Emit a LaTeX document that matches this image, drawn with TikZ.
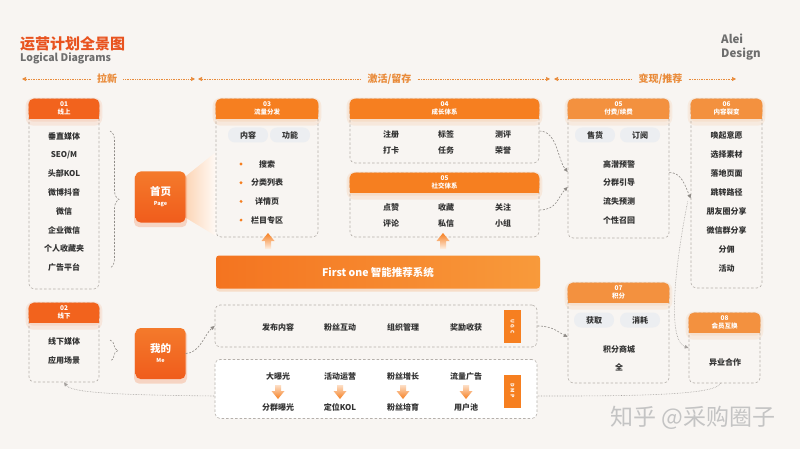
\documentclass[tikz,border=0pt]{standalone}
\usepackage{fontspec}
\setmainfont{Noto Sans CJK SC}
\usetikzlibrary{arrows.meta,shadows,decorations.pathreplacing}

\definecolor{bgcream}{HTML}{F8F5F2}
\definecolor{txtdark}{HTML}{333333}
\definecolor{titlered}{HTML}{E8531F}
\definecolor{subgray}{HTML}{6E6E6E}
\definecolor{phaseor}{HTML}{E98B3A}
\definecolor{headred}{HTML}{F2631D}
\definecolor{heador}{HTML}{F67F20}
\definecolor{headlt}{HTML}{F3913F}
\definecolor{hubtop}{HTML}{F47A2B}
\definecolor{hubbot}{HTML}{F05C1C}
\definecolor{barleft}{HTML}{F47420}
\definecolor{barright}{HTML}{F89A3B}
\definecolor{dashgray}{HTML}{B5B0AB}
\definecolor{linkgray}{HTML}{8E8A86}
\definecolor{pillgray}{HTML}{ECEEF1}
\definecolor{wmgray}{HTML}{C4C4C4}

\begin{document}
\begin{tikzpicture}[x=1pt,y=-1pt,
  card/.style={draw=dashgray, dash pattern=on 2.5pt off 2pt, line width=.6pt, rounded corners=5pt, inner sep=0},
  item/.style={text=txtdark, font=\bfseries\fontsize{8}{9}\selectfont, inner sep=1pt},
  hdtxt/.style={text=white, align=center, font=\bfseries\fontsize{6.5}{7.8}\selectfont, inner sep=0},
  pill/.style={fill=pillgray, rounded corners=7pt, minimum width=40, minimum height=15, inner sep=0, text=txtdark, font=\bfseries\fontsize{8}{9}\selectfont},
  hub/.style={top color=hubtop, bottom color=hubbot, rounded corners=5pt, minimum width=50, minimum height=51, inner sep=0, text=white, align=center, font=\bfseries\fontsize{10.5}{13}\selectfont, drop shadow={fill=headred, opacity=.22, shadow xshift=0pt, shadow yshift=-3pt, shadow scale=1.06}},
  tag/.style={fill=heador, minimum width=33, minimum height=17, inner sep=0, rotate=-90, text=white, font=\bfseries\fontsize{5}{6}\selectfont},
  link/.style={draw=linkgray, dash pattern=on 2pt off 1.5pt, line width=.6pt, -{Triangle[length=4pt,width=3.5pt]}},
  dotline/.style={draw=linkgray!80, densely dotted, line width=.6pt, -{Triangle[length=4pt,width=3.5pt]}},
  curly/.style={draw=linkgray, dash pattern=on 2pt off 1.5pt, line width=.6pt, decorate, decoration={brace, amplitude=#1}},
  phase/.style={draw=phaseor, densely dotted, line width=.7pt},
  phasetxt/.style={text=phaseor, font=\bfseries\fontsize{10}{11}\selectfont, inner sep=6pt},
]
\fill[bgcream] (0,0) rectangle (800,449);
\useasboundingbox (0,0) rectangle (800,449);

% title and brand
\node[anchor=west, inner sep=0, text=titlered, font=\bfseries\fontsize{15}{16}\selectfont] (title) at (20,44) {运营计划全景图};
\node[anchor=west, inner sep=0, text=subgray, font=\bfseries\fontsize{10.5}{12}\selectfont] (subtitle) at (20,58.5) {Logical Diagrams};
\node[anchor=north west, inner sep=0, align=left, text=subgray, font=\bfseries\fontsize{11.5}{14}\selectfont] (brand) at (721,34) {Alei\\Design};

% phases
\node[phasetxt] (ph1) at (107,79) {拉新};
\node[phasetxt] (ph2) at (389.5,79) {激活/留存};
\node[phasetxt] (ph3) at (660.5,79) {变现/推荐};
\coordinate (pa) at (22,79);
\coordinate (pb) at (195,79);
\coordinate (pc) at (198,79);
\coordinate (pd) at (550,79);
\coordinate (pe) at (554,79);
\coordinate (pf) at (736,79);
\draw[phase, {Triangle[length=4pt,width=4pt]}-] (pa) -- (ph1);
\draw[phase, -{Triangle[length=4pt,width=4pt]}] (ph1) -- (pb);
\draw[phase, {Triangle[length=4pt,width=4pt]}-] (pc) -- (ph2);
\draw[phase, -{Triangle[length=4pt,width=4pt]}] (ph2) -- (pd);
\draw[phase, {Triangle[length=4pt,width=4pt]}-] (pe) -- (ph3);
\draw[phase, -{Triangle[length=4pt,width=4pt]}] (ph3) -- (pf);

% light beam from the home page
\shade[left color=heador!32, right color=heador!4] (186,176) -- (216,152) -- (216,236) -- (186,218) -- cycle;

% cards
\node[card, minimum width=70, minimum height=190] (b01) at (64,194) {};
\node[card, minimum width=70, minimum height=79] (b02) at (64,342.5) {};
\node[card, minimum width=102, minimum height=138] (b03) at (267,168) {};
\node[card, minimum width=189, minimum height=64] (b04) at (444.5,131) {};
\node[card, minimum width=189, minimum height=64] (b05s) at (444.5,205) {};
\node[card, minimum width=101, minimum height=139] (b05p) at (618.5,168.5) {};
\node[card, minimum width=71, minimum height=189] (b06) at (726.5,193.5) {};
\node[card, minimum width=101, minimum height=100] (b07) at (618.5,333) {};
\node[card, minimum width=71, minimum height=70] (b08) at (724.5,348) {};

\foreach \c/\hc/\lab in {b01/headred/{01\\线上}, b02/headred/{02\\线下},
    b03/heador/{03\\流量分发}, b04/heador/{04\\成长体系}, b05s/heador/{05\\社交体系},
    b05p/headlt/{05\\付费/续费}, b06/headlt/{06\\内容裂变}, b07/headlt/{07\\积分},
    b08/headlt/{08\\会员互换}}{
  \fill[\hc, opacity=.10, rounded corners=8pt] ([xshift=-3pt,yshift=1pt]\c.north west) rectangle ([xshift=3pt,yshift=-27pt]\c.north east);
  \fill[\hc, opacity=.10, rounded corners=6pt] ([xshift=-1pt]\c.north west) rectangle ([xshift=1pt,yshift=-23pt]\c.north east);
  \fill[\hc, rounded corners=5pt] (\c.north west) rectangle ([yshift=-20pt]\c.north east);
  \fill[\hc] ([yshift=-12pt]\c.north west) rectangle ([yshift=-20pt]\c.north east);
  \node[hdtxt] (h\c) at ([yshift=-10pt]\c.north) {\lab};
}

% 01 online
\foreach \t [count=\i] in {垂直媒体,SEO/M,头部KOL,微博抖音,微信,企业微信,个人收藏夹,广告平台}
  \node[item] (on\i) at (64,{117.2+18.8*\i}) {\t};
% 02 offline
\foreach \t [count=\i] in {线下媒体,应用场景}
  \node[item] (off\i) at (64,{322+19*\i}) {\t};

% 03 traffic
\node[pill] (p31) at (248,135) {内容};
\node[pill] (p32) at (290,135) {功能};
\foreach \t [count=\i] in {搜索,分类列表,详情页,栏目专区}{
  \fill[heador] (241,{145.3+18.7*\i}) circle (1.6pt);
  \node[item] (tr\i) at (267,{145.3+18.7*\i}) {\t};
}

% 04 growth, 05 social
\foreach \t/\x in {注册/391,标签/446,测评/503}
  \node[item] (gr\x) at (\x,134) {\t};
\foreach \t/\x in {打卡/391,任务/446,荣誉/503}
  \node[item] (gs\x) at (\x,150.5) {\t};
\foreach \t/\x in {点赞/391,收藏/446,关注/503}
  \node[item] (so\x) at (\x,207.5) {\t};
\foreach \t/\x in {评论/391,私信/446,小组/503}
  \node[item] (sp\x) at (\x,223.5) {\t};

% 05 pay
\node[pill] (p51) at (595,135) {售货};
\node[pill] (p52) at (640,135) {订阅};
\foreach \t [count=\i] in {高潜预警,分群引导,流失预测,个性召回}
  \node[item] (pay\i) at (619,{145.3+18.8*\i}) {\t};

% 06 content
\foreach \t [count=\i] in {唤起意愿,选择素材,落地页面,跳转路径,朋友圈分享,微信群分享,分佣,活动}
  \node[item] (ct\i) at (726.5,{116.8+18.9*\i}) {\t};

% 07 points, 08 members
\node[pill] (p71) at (594,320) {获取};
\node[pill] (p72) at (640,320) {消耗};
\node[item] (pt1) at (619,349) {积分商城};
\node[item] (pt2) at (619,367) {全};
\node[item] (mb1) at (725,362) {异业合作};

% hubs
\node[hub] (page) at (160.5,197) {首页\\[-3pt]{\fontsize{5.5}{6}\selectfont Page}};
\node[hub] (me) at (160.5,353.5) {我的\\[-3pt]{\fontsize{5.5}{6}\selectfont Me}};

% recommendation system
\node[left color=barleft, right color=barright, rounded corners=3pt, minimum width=324, minimum height=33,
  text=white, font=\bfseries\fontsize{10.5}{12}\selectfont,
  drop shadow={fill=heador, opacity=.2, shadow xshift=0pt, shadow yshift=-3pt}] (sys) at (378,272) {First one 智能推荐系统};
\foreach \ax in {268,443}
  \shade[top color=heador, bottom color=heador!12] (\ax,233) -- ({\ax+6.5},241) -- ({\ax+3},241) -- ({\ax+3},249)
    -- ({\ax-3},249) -- ({\ax-3},241) -- ({\ax-6.5},241) -- cycle;

% long return line
\coordinate (lowr) at (560,396);
\coordinate (lowl) at (215,396);
\draw[dotline] ([xshift=-4pt]b08.south) .. controls +(-4,10) and (660,396) .. (lowr) -- (lowl)
  .. controls (120,395) and (72,393) .. (b02.south);

% UGC and DMP
\node[card, minimum width=322, minimum height=42] (bugc) at (376,326) {};
\node[card, fill=white, minimum width=322, minimum height=59] (bdmp) at (376,389) {};
\node[tag] (ugc) at (512.5,326.5) {U\,\,G\,\,C};
\node[tag] (dmp) at (512.5,391) {D\,\,M\,\,P};
\foreach \t/\x in {发布内容/278,粉丝互动/340,组织管理/403,奖励收获/466}
  \node[item] (u\x) at (\x,327.5) {\t};
\foreach \t/\x in {大曝光/278,活动运营/340,粉丝增长/403,流量广告/466}
  \node[item] (dt\x) at (\x,376.5) {\t};
\foreach \t/\x in {分群曝光/278,定位KOL/340,粉丝培育/403,用户池/466}
  \node[item] (db\x) at (\x,407.5) {\t};
\foreach \ax in {278,340,403,466}
  \shade[top color=heador!25, bottom color=heador] ({\ax-3},385) -- ({\ax+3},385) -- ({\ax+3},391) -- ({\ax+6.5},391)
    -- (\ax,399) -- ({\ax-6.5},391) -- ({\ax-3},391) -- cycle;

% braces
\coordinate (br1t) at (110,131);
\coordinate (br1b) at (110,268);
\coordinate (br2t) at (110,340);
\coordinate (br2b) at (110,361);
\draw[curly=9pt] (br1t) -- (br1b);
\draw[curly=8pt] (br2t) -- (br2b);

% connectors
\draw[link] (b04.east) .. controls +(18,0) and +(-10,-12) .. ([yshift=-3.5pt]b05p.west);
\draw[link] ([yshift=-5pt]b05s.east) .. controls +(18,0) and +(-10,10) .. ([yshift=-18.5pt]b05p.west);
\draw[link] ([yshift=-4pt]b05p.east) .. controls +(12,0) and +(-6,-14) .. ([yshift=-5pt]b06.west);
\draw[dotline] ([xshift=-3pt,yshift=-8pt]b06.west) .. controls (676,260) and (666,340) .. (b08.west);
\draw[link] (bugc.east) .. controls +(16,0) and +(-10,-5) .. ([yshift=-4pt]b07.west);
\draw[link] (me.east) .. controls +(14,0) and +(-10,8) .. (bugc.west);

% watermark
\node[text=wmgray, font=\fontsize{23}{24}\selectfont, inner sep=0] (wm) at (693,418) {知乎 @采购圈子};
\end{tikzpicture}
\end{document}
